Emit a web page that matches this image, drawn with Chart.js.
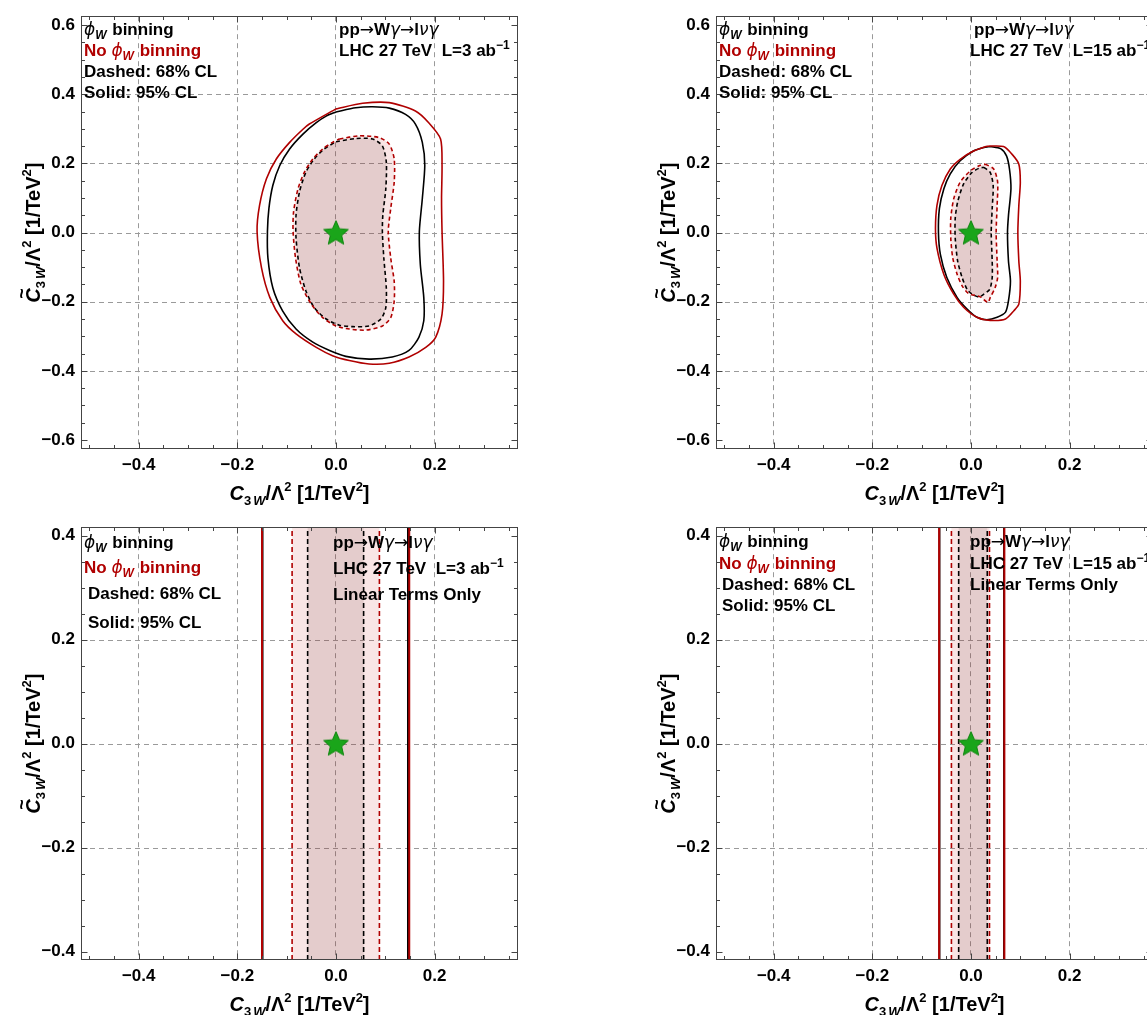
<!DOCTYPE html>
<html><head><meta charset="utf-8">
<script src="https://cdn.jsdelivr.net/npm/chart.js@4.4.1/dist/chart.umd.min.js"></script>
<style>
html,body{margin:0;padding:0;background:#fff;overflow:hidden;width:1147px;height:1015px;position:relative;}
canvas{position:absolute;}
</style></head><body>
<canvas id="tl" width="635" height="511" style="left:0;top:0"></canvas>
<canvas id="tr" width="635" height="511" style="left:635px;top:0"></canvas>
<canvas id="bl" width="635" height="511" style="left:0;top:511px"></canvas>
<canvas id="br" width="635" height="511" style="left:635px;top:511px"></canvas>
<script>
// ---------------- data ----------------
const xTickLabels = [-0.4, -0.2, 0.0, 0.2];
const yTickLabelsQuad = [-0.6, -0.4, -0.2, 0.0, 0.2, 0.4, 0.6];
const yTickLabelsLin = [-0.4, -0.2, 0.0, 0.2, 0.4];
const yGridQuad = [-0.4, -0.2, 0.0, 0.2, 0.4];
const yGridLin = [-0.2, 0.0, 0.2];
const xRange = [-0.517, 0.369];
const yRangeQuad = [-0.626, 0.626];
const yRangeLin = [-0.416, 0.416];
const bestFit = [[0, 0]];

// L = 3 ab^-1, full (quadratic) fit: contours [x, y]
const L3_red95 = [[0,0.358],[0.054,0.374],[0.108,0.376],[0.161,0.352],[0.188,0.318],[0.212,0.271],[0.215,0.194],[0.214,0.1],[0.215,0.003],[0.218,-0.141],[0.215,-0.236],[0.202,-0.303],[0.182,-0.332],[0.148,-0.360],[0.108,-0.378],[0.067,-0.380],[0.027,-0.370],[-0.007,-0.356],[-0.040,-0.332],[-0.081,-0.293],[-0.108,-0.255],[-0.134,-0.188],[-0.151,-0.102],[-0.160,0.003],[-0.155,0.079],[-0.141,0.156],[-0.121,0.213],[-0.094,0.261],[-0.067,0.299],[-0.054,0.314]];
const L3_black95 = [[0,0.349],[0.040,0.361],[0.074,0.364],[0.108,0.360],[0.141,0.342],[0.161,0.314],[0.175,0.261],[0.180,0.194],[0.175,0.098],[0.169,0.003],[0.171,-0.093],[0.178,-0.188],[0.178,-0.255],[0.168,-0.303],[0.148,-0.341],[0.114,-0.360],[0.067,-0.366],[0.020,-0.358],[-0.013,-0.341],[-0.047,-0.317],[-0.081,-0.279],[-0.108,-0.227],[-0.128,-0.160],[-0.138,-0.074],[-0.139,0.003],[-0.136,0.070],[-0.128,0.137],[-0.114,0.194],[-0.094,0.242],[-0.067,0.285],[-0.040,0.318],[-0.020,0.337]];
const L3_red68 = [[0.007,0.271],[0.047,0.280],[0.087,0.275],[0.108,0.256],[0.118,0.213],[0.118,0.146],[0.111,0.070],[0.106,0.003],[0.111,-0.074],[0.118,-0.141],[0.118,-0.198],[0.111,-0.246],[0.094,-0.270],[0.061,-0.282],[0.027,-0.279],[0,-0.270],[-0.027,-0.246],[-0.050,-0.207],[-0.071,-0.150],[-0.082,-0.074],[-0.087,0.003],[-0.086,0.060],[-0.077,0.127],[-0.064,0.175],[-0.047,0.213],[-0.027,0.242],[-0.007,0.261]];
const L3_black68 = [[0,0.263],[0.040,0.272],[0.074,0.271],[0.094,0.251],[0.102,0.204],[0.101,0.127],[0.095,0.051],[0.094,0.003],[0.097,-0.074],[0.102,-0.160],[0.101,-0.217],[0.091,-0.250],[0.067,-0.270],[0.034,-0.272],[0.007,-0.268],[-0.020,-0.250],[-0.044,-0.217],[-0.061,-0.169],[-0.074,-0.102],[-0.081,-0.016],[-0.081,0.051],[-0.074,0.118],[-0.061,0.175],[-0.044,0.213],[-0.024,0.242]];

// L = 15 ab^-1, full (quadratic) fit
const L15_red95 = [[0.032,0.250],[0.066,0.249],[0.083,0.227],[0.097,0.198],[0.100,0.146],[0.097,0.079],[0.095,0],[0.097,-0.083],[0.100,-0.140],[0.097,-0.207],[0.087,-0.226],[0.070,-0.250],[0.039,-0.254],[0.012,-0.245],[-0.015,-0.216],[-0.035,-0.178],[-0.055,-0.121],[-0.069,-0.045],[-0.072,0.012],[-0.069,0.079],[-0.059,0.136],[-0.042,0.184],[-0.022,0.212],[0.005,0.236]];
const L15_black95 = [[0.039,0.249],[0.060,0.243],[0.072,0.222],[0.078,0.184],[0.081,0.127],[0.076,0.050],[0.074,0],[0.076,-0.083],[0.080,-0.140],[0.076,-0.197],[0.070,-0.230],[0.053,-0.245],[0.032,-0.252],[0.012,-0.245],[-0.008,-0.221],[-0.028,-0.188],[-0.049,-0.130],[-0.062,-0.064],[-0.066,0],[-0.064,0.070],[-0.055,0.127],[-0.042,0.170],[-0.022,0.208],[0.005,0.236],[0.026,0.246]];
const L15_red68 = [[0.029,0.198],[0.046,0.184],[0.054,0.146],[0.053,0.079],[0.051,0],[0.053,-0.083],[0.054,-0.130],[0.049,-0.159],[0.039,-0.188],[0.034,-0.202],[0.019,-0.186],[-0.005,-0.176],[-0.018,-0.154],[-0.028,-0.121],[-0.037,-0.073],[-0.041,-0.016],[-0.041,0.041],[-0.035,0.098],[-0.022,0.146],[-0.001,0.179],[0.019,0.195]];
const L15_black68 = [[0.026,0.189],[0.039,0.174],[0.045,0.136],[0.043,0.070],[0.041,0],[0.043,-0.083],[0.043,-0.130],[0.038,-0.164],[0.026,-0.178],[0.016,-0.186],[0.002,-0.178],[-0.008,-0.164],[-0.018,-0.130],[-0.027,-0.083],[-0.032,-0.016],[-0.032,0.041],[-0.027,0.089],[-0.015,0.141],[0.002,0.174],[0.016,0.186]];

// Linear-terms-only fits: allowed C3W interval [low, high]
const L3lin_red95 = [-0.150, 0.1485];
const L3lin_black95 = [-0.149, 0.146];
const L3lin_red68 = [-0.089, 0.088];
const L3lin_black68 = [-0.0575, 0.056];
const L15lin_red95 = [-0.0646, 0.0676];
const L15lin_black95 = [-0.064, 0.067];
const L15lin_red68 = [-0.0397, 0.0375];
const L15lin_black68 = [-0.025, 0.033];

// ---------------- styling ----------------
const FAM = '"Liberation Sans", Arimo, Arial, "DejaVu Sans", sans-serif';
const RED = '#b00000';
const GRID = '#9a9a9a';
const FRAME = '#444444';
const FILL_OUT = 'rgba(205,40,40,0.12)';
const FILL_IN = 'rgba(110,60,60,0.15)';

function pts(arr, close) {
  const out = arr.map(p => ({x: p[0], y: p[1]}));
  if (close) out.push({x: arr[0][0], y: arr[0][1]});
  return out;
}
function makeStar(size) {
  const c = document.createElement('canvas'); c.width = c.height = size;
  const g = c.getContext('2d');
  const cx = size / 2, cy = size / 2 + 1, R = size / 2 - 1, r = R * 0.46;
  g.beginPath();
  for (let i = 0; i < 10; i++) {
    const a = -Math.PI / 2 + i * Math.PI / 5, rr = (i % 2) ? r : R;
    g.lineTo(cx + rr * Math.cos(a), cy + rr * Math.sin(a));
  }
  g.closePath(); g.fillStyle = '#1aa51a'; g.fill();
  g.strokeStyle = '#0e860e'; g.lineWidth = 1; g.stroke();
  return c;
}
const STAR = makeStar(28);

function lineDs(data, color, dash, width, order) {
  return {data, showLine: true, borderColor: color, borderWidth: width, borderDash: dash,
    pointRadius: 0, fill: false, tension: 0.25, order, clip: 0};
}
function fillDs(data, color, order) {
  return {data, showLine: true, borderColor: 'transparent', borderWidth: 0.01, backgroundColor: color,
    pointRadius: 0, fill: 'shape', tension: 0.25, order};
}
function band(iv, yr) {
  return [{x: iv[0], y: yr[0]}, {x: iv[1], y: yr[0]}, {x: iv[1], y: yr[1]}, {x: iv[0], y: yr[1]}, {x: iv[0], y: yr[0]}];
}
function vline(x, yr) { return [{x, y: yr[0]}, {x, y: yr[1]}]; }

function buildDatasets(p) {
  const ds = [{data: pts(bestFit), showLine: false, pointStyle: STAR, pointRadius: 14, order: 0}];
  if (p.kind === 'contour') {
    ds.push(lineDs(pts(p.red95, true), RED, [], 1.6, 1));
    ds.push(lineDs(pts(p.black95, true), '#000', [], 1.6, 2));
    ds.push(lineDs(pts(p.red68, true), RED, [4, 3], 1.6, 3));
    ds.push(lineDs(pts(p.black68, true), '#000', [4, 3], 1.6, 4));
    ds.push(fillDs(pts(p.black68, true), FILL_IN, 5));
    ds.push(fillDs(pts(p.red68, true), FILL_OUT, 6));
  } else {
    const yr = p.yRange;
    p.red95.forEach(x => ds.push(Object.assign(lineDs(vline(x, yr), RED, [], 2, 1), {tension: 0, clip: false})));
    p.black95.forEach(x => ds.push(Object.assign(lineDs(vline(x, yr), '#000', [], 2, 2), {tension: 0, clip: false})));
    p.red68.forEach(x => ds.push(Object.assign(lineDs(vline(x, yr), RED, [5, 3], 1.6, 3), {tension: 0, clip: false})));
    p.black68.forEach(x => ds.push(Object.assign(lineDs(vline(x, yr), '#000', [5, 3], 1.6, 4), {tension: 0, clip: false})));
    ds.push(Object.assign(fillDs(band(p.black68, yr), FILL_IN, 5), {tension: 0}));
    ds.push(Object.assign(fillDs(band(p.red68, yr), FILL_OUT, 6), {tension: 0}));
  }
  return ds;
}

function fmt(v) {
  if (Math.abs(v) < 1e-9) return '0.0';
  return (v < 0 ? '\u2212' : '') + Math.abs(v).toFixed(1);
}

// rich text
const F_B = 'bold 17px ' + FAM;
const F_I = 'italic 17px "DejaVu Sans", ' + FAM;
const F_AR = '17px "DejaVu Sans", ' + FAM;
const F_SUB = 'italic bold 12px ' + FAM;
const F_SUP = 'bold 12px ' + FAM;
function drawRich(ctx, parts, x, y, color, align) {
  let w = 0;
  for (const p of parts) { ctx.font = p.f; w += ctx.measureText(p.t).width + (p.sp || 0); }
  let cx = align === 'center' ? x - w / 2 : x;
  for (const p of parts) {
    ctx.font = p.f; ctx.fillStyle = p.c || color;
    ctx.fillText(p.t, cx, y + (p.dy || 0));
    const tw = ctx.measureText(p.t).width;
    if (p.tilde) {
      ctx.font = 'bold 18px ' + FAM;
      ctx.textAlign = 'center';
      ctx.fillText('~', cx + tw / 2 + 2, y - 12);
      ctx.textAlign = 'left';
    }
    cx += tw + (p.sp || 0);
  }
}
const phiW = [{t: '\u03D5', f: F_I}, {t: 'W', f: F_SUB, dy: 4, sp: 1}];
const T_BIN = [...phiW, {t: ' binning', f: F_B}];
const T_NOBIN = [{t: 'No ', f: F_B}, ...phiW, {t: ' binning', f: F_B}];
const T_DASH = [{t: 'Dashed: 68% CL', f: F_B}];
const T_SOLID = [{t: 'Solid: 95% CL', f: F_B}];
const T_PROC = [{t: 'pp', f: F_B}, {t: '\u2192', f: F_AR}, {t: 'W', f: F_B}, {t: '\u03B3', f: F_I},
                {t: '\u2192', f: F_AR}, {t: 'l', f: F_B}, {t: '\u03BD\u03B3', f: F_I}];
function T_LUMI(L) { return [{t: 'LHC 27 TeV  L=' + L + ' ab', f: F_B}, {t: '\u22121', f: F_SUP, dy: -7}]; }
const T_LIN = [{t: 'Linear Terms Only', f: F_B}];
const F_T = 'bold 20px ' + FAM, F_TI = 'italic bold 20px ' + FAM, F_TS = 'bold 13px ' + FAM, F_TSI = 'italic bold 13px ' + FAM;
const T_XTITLE = [{t: 'C', f: F_TI}, {t: '3', f: F_TS, dy: 5, sp: 2}, {t: 'W', f: F_TSI, dy: 5}, {t: '/\u039B', f: F_T}, {t: '2', f: F_TS, dy: -9}, {t: ' [1/TeV', f: F_T}, {t: '2', f: F_TS, dy: -9}, {t: ']', f: F_T}];
const T_YTITLE = [{t: 'C', f: F_TI, tilde: true}, {t: '3', f: F_TS, dy: 5, sp: 2}, {t: 'W', f: F_TSI, dy: 5}, {t: '/\u039B', f: F_T}, {t: '2', f: F_TS, dy: -9}, {t: ' [1/TeV', f: F_T}, {t: '2', f: F_TS, dy: -9}, {t: ']', f: F_T}];

const decor = {
  id: 'decor',
  beforeDatasetsDraw(chart) {
    // horizontal dashed grid lines (only at the interior labelled values)
    const p = chart.canvas._panel;
    const ctx = chart.ctx, a = chart.chartArea, ys = chart.scales.y;
    ctx.save();
    ctx.strokeStyle = GRID; ctx.lineWidth = 1; ctx.setLineDash([5, 4]);
    ctx.beginPath();
    p.yGrid.forEach(v => {
      const py = Math.round(ys.getPixelForValue(v)) + 0.5;
      ctx.moveTo(a.left, py); ctx.lineTo(a.right, py);
    });
    ctx.stroke();
    ctx.restore();
  },
  afterDatasetsDraw(chart) {
    const p = chart.canvas._panel;
    const ctx = chart.ctx, a = chart.chartArea, xs = chart.scales.x, ys = chart.scales.y;
    ctx.save();
    // frame
    ctx.strokeStyle = FRAME; ctx.lineWidth = 1;
    const L = Math.round(a.left) + 0.5, R = Math.round(a.right) - 0.5, T = Math.round(a.top) + 0.5, B = Math.round(a.bottom) - 0.5;
    ctx.strokeRect(L, T, R - L, B - T);
    // inward ticks
    ctx.beginPath();
    const isMajor = v => Math.abs(v / 0.2 - Math.round(v / 0.2)) < 1e-6;
    for (let v = Math.ceil(xs.min / 0.05) * 0.05; v <= xs.max + 1e-9; v += 0.05) {
      const px = Math.round(xs.getPixelForValue(v)) + 0.5, len = isMajor(v) ? 6 : 3.5;
      ctx.moveTo(px, B); ctx.lineTo(px, B - len); ctx.moveTo(px, T); ctx.lineTo(px, T + len);
    }
    for (let v = Math.ceil(ys.min / 0.05) * 0.05; v <= ys.max + 1e-9; v += 0.05) {
      const py = Math.round(ys.getPixelForValue(v)) + 0.5, len = isMajor(v) ? 6 : 3.5;
      ctx.moveTo(L, py); ctx.lineTo(L + len, py); ctx.moveTo(R, py); ctx.lineTo(R - len, py);
    }
    ctx.stroke();
    // annotations
    ctx.textBaseline = 'alphabetic'; ctx.textAlign = 'left';
    const lx = a.left + 3, t0 = a.top;
    drawRich(ctx, T_BIN, lx, t0 + p.ly[0], '#000');
    drawRich(ctx, T_NOBIN, lx, t0 + p.ly[1], RED);
    drawRich(ctx, T_DASH, lx + p.lind, t0 + p.ly[2], '#000');
    drawRich(ctx, T_SOLID, lx + p.lind, t0 + p.ly[3], '#000');
    const x0 = xs.getPixelForValue(0);
    drawRich(ctx, T_PROC, x0 + p.rdx[0], t0 + p.ry[0], '#000');
    drawRich(ctx, T_LUMI(p.lumi), x0 + p.rdx[1], t0 + p.ry[1], '#000');
    if (p.kind === 'linear') drawRich(ctx, T_LIN, x0 + p.rdx[1], t0 + p.ry[2], '#000');
    // axis titles
    drawRich(ctx, T_XTITLE, (a.left + a.right) / 2, a.bottom + 51, '#000', 'center');
    ctx.save();
    ctx.translate(a.left - 41, (a.top + a.bottom) / 2);
    ctx.rotate(-Math.PI / 2);
    drawRich(ctx, T_YTITLE, 0, 0, '#000', 'center');
    ctx.restore();
    ctx.restore();
  }
};

function makeChart(p) {
  const canvas = document.getElementById(p.id);
  canvas._panel = p;
  const tickFont = {family: FAM, size: 17, weight: 'bold'};
  return new Chart(canvas, {
    type: 'scatter',
    data: {datasets: buildDatasets(p)},
    options: {
      responsive: false, animation: false, devicePixelRatio: 1, events: [],
      layout: {padding: {left: 0, top: 13, right: 117, bottom: 0}},
      plugins: {legend: {display: false}, tooltip: {enabled: false}},
      scales: {
        x: {type: 'linear', min: xRange[0], max: xRange[1],
          afterBuildTicks: s => { s.ticks = xTickLabels.map(v => ({value: v})); },
          afterFit: s => { s.height = 62; },
          grid: {color: GRID, lineWidth: 1, drawTicks: false},
          border: {display: false, dash: [5, 4]},
          ticks: {callback: v => fmt(v), font: tickFont, color: '#000', padding: 6, autoSkip: false, maxRotation: 0}},
        y: {type: 'linear', min: p.yRange[0], max: p.yRange[1],
          afterBuildTicks: s => { s.ticks = p.yTicks.map(v => ({value: v})); },
          afterFit: s => { s.width = 81; },
          grid: {display: false, drawTicks: false},
          border: {display: false},
          ticks: {callback: v => fmt(v), font: tickFont, color: '#000', padding: 6, autoSkip: false}}
      }
    },
    plugins: [decor]
  });
}

const panels = [
  {id: 'tl', kind: 'contour', lumi: '3', yRange: yRangeQuad, yTicks: yTickLabelsQuad, yGrid: yGridQuad,
   red95: L3_red95, black95: L3_black95, red68: L3_red68, black68: L3_black68,
   ly: [19, 40, 61, 82], lind: 0, ry: [19, 40], rdx: [3, 3]},
  {id: 'tr', kind: 'contour', lumi: '15', yRange: yRangeQuad, yTicks: yTickLabelsQuad, yGrid: yGridQuad,
   red95: L15_red95, black95: L15_black95, red68: L15_red68, black68: L15_black68,
   ly: [19, 40, 61, 82], lind: 0, ry: [19, 40], rdx: [3, -1]},
  {id: 'bl', kind: 'linear', lumi: '3', yRange: yRangeLin, yTicks: yTickLabelsLin, yGrid: yGridLin,
   red95: L3lin_red95, black95: L3lin_black95, red68: L3lin_red68, black68: L3lin_black68,
   ly: [21, 46, 72, 101], lind: 4, ry: [21, 47, 73], rdx: [-3, -3]},
  {id: 'br', kind: 'linear', lumi: '15', yRange: yRangeLin, yTicks: yTickLabelsLin, yGrid: yGridLin,
   red95: L15lin_red95, black95: L15lin_black95, red68: L15lin_red68, black68: L15lin_black68,
   ly: [20, 42, 63, 84], lind: 3, ry: [20, 42, 63], rdx: [-1, -1]}
];
panels.forEach(makeChart);
</script>
</body></html>
